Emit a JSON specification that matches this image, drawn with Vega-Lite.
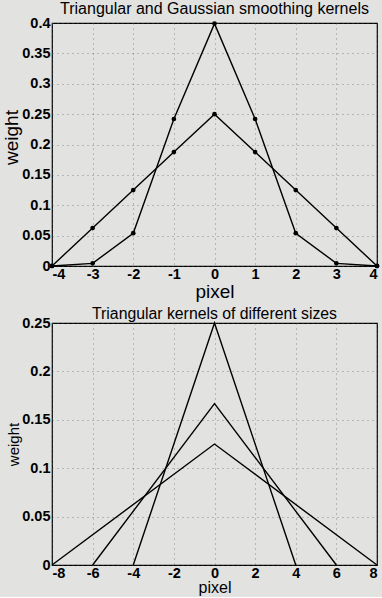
{
  "$schema": "https://vega.github.io/schema/vega-lite/v6.json",
  "background": "#e2e2e0",
  "padding": {"left": 2, "top": 0, "right": 4, "bottom": 0},
  "spacing": 2,
  "config": {
    "font": "Liberation Sans",
    "view": {"stroke": "black", "strokeWidth": 1.2},
    "axis": {
      "labelFont": "Liberation Sans",
      "labelColor": "black",
      "labelFontSize": 14.5,
      "labelFontWeight": "bold",
      "titleColor": "black",
      "titleFont": "Liberation Sans",
      "titleFontWeight": "normal",
      "domain": false,
      "ticks": false,
      "grid": true,
      "gridColor": "#555555",
      "gridDash": [1, 4],
      "gridWidth": 0.8,
      "gridOpacity": 0.8,
      "labelExpr": "datum.value < 0 ? '-' + format(-datum.value, '~g') : format(datum.value, '~g')"
    },
    "axisX": {"labelPadding": 1},
    "axisY": {"labelPadding": 2},
    "title": {"font": "Liberation Sans", "fontWeight": "normal", "color": "black", "anchor": "middle"}
  },
  "vconcat": [
    {
      "width": 325,
      "height": 243,
      "title": {"text": "Triangular and Gaussian smoothing kernels", "fontSize": 16, "offset": -2},
      "data": {"values": [
        {"kernel": "triangular", "pixel": -4, "weight": 0},
        {"kernel": "triangular", "pixel": -3, "weight": 0.0625},
        {"kernel": "triangular", "pixel": -2, "weight": 0.125},
        {"kernel": "triangular", "pixel": -1, "weight": 0.1875},
        {"kernel": "triangular", "pixel": 0, "weight": 0.25},
        {"kernel": "triangular", "pixel": 1, "weight": 0.1875},
        {"kernel": "triangular", "pixel": 2, "weight": 0.125},
        {"kernel": "triangular", "pixel": 3, "weight": 0.0625},
        {"kernel": "triangular", "pixel": 4, "weight": 0},
        {"kernel": "gaussian", "pixel": -4, "weight": 0.0001},
        {"kernel": "gaussian", "pixel": -3, "weight": 0.0044},
        {"kernel": "gaussian", "pixel": -2, "weight": 0.054},
        {"kernel": "gaussian", "pixel": -1, "weight": 0.242},
        {"kernel": "gaussian", "pixel": 0, "weight": 0.399},
        {"kernel": "gaussian", "pixel": 1, "weight": 0.242},
        {"kernel": "gaussian", "pixel": 2, "weight": 0.054},
        {"kernel": "gaussian", "pixel": 3, "weight": 0.0044},
        {"kernel": "gaussian", "pixel": 4, "weight": 0.0001}
      ]},
      "encoding": {
        "x": {"field": "pixel", "type": "quantitative",
              "scale": {"domain": [-4, 4], "nice": false, "zero": false},
              "axis": {"values": [-4, -3, -2, -1, 0, 1, 2, 3, 4], "title": "pixel", "titleFontSize": 19, "titlePadding": 2}},
        "y": {"field": "weight", "type": "quantitative",
              "scale": {"domain": [0, 0.4], "nice": false},
              "axis": {"values": [0, 0.05, 0.1, 0.15, 0.2, 0.25, 0.3, 0.35, 0.4], "title": "weight", "titleFontSize": 19, "titlePadding": 0, "titleY": 114}},
        "detail": {"field": "kernel"}
      },
      "layer": [
        {"mark": {"type": "line", "color": "black", "strokeWidth": 1.4}},
        {"mark": {"type": "point", "filled": true, "color": "black", "size": 22, "opacity": 1}}
      ]
    },
    {
      "width": 325,
      "height": 242,
      "title": {"text": "Triangular kernels of different sizes", "fontSize": 15.8, "offset": -8},
      "data": {"values": [
        {"size": "4", "pixel": -4, "weight": 0},
        {"size": "4", "pixel": 0, "weight": 0.25},
        {"size": "4", "pixel": 4, "weight": 0},
        {"size": "6", "pixel": -6, "weight": 0},
        {"size": "6", "pixel": 0, "weight": 0.1667},
        {"size": "6", "pixel": 6, "weight": 0},
        {"size": "8", "pixel": -8, "weight": 0},
        {"size": "8", "pixel": 0, "weight": 0.125},
        {"size": "8", "pixel": 8, "weight": 0}
      ]},
      "mark": {"type": "line", "color": "black", "strokeWidth": 1.4},
      "encoding": {
        "x": {"field": "pixel", "type": "quantitative",
              "scale": {"domain": [-8, 8], "nice": false, "zero": false},
              "axis": {"values": [-8, -6, -4, -2, 0, 2, 4, 6, 8], "title": "pixel", "titleFontSize": 16, "titlePadding": 0}},
        "y": {"field": "weight", "type": "quantitative",
              "scale": {"domain": [0, 0.25], "nice": false},
              "axis": {"values": [0, 0.05, 0.1, 0.15, 0.2, 0.25], "title": "weight", "titleFontSize": 15, "titlePadding": 0}},
        "detail": {"field": "size"}
      }
    }
  ]
}
